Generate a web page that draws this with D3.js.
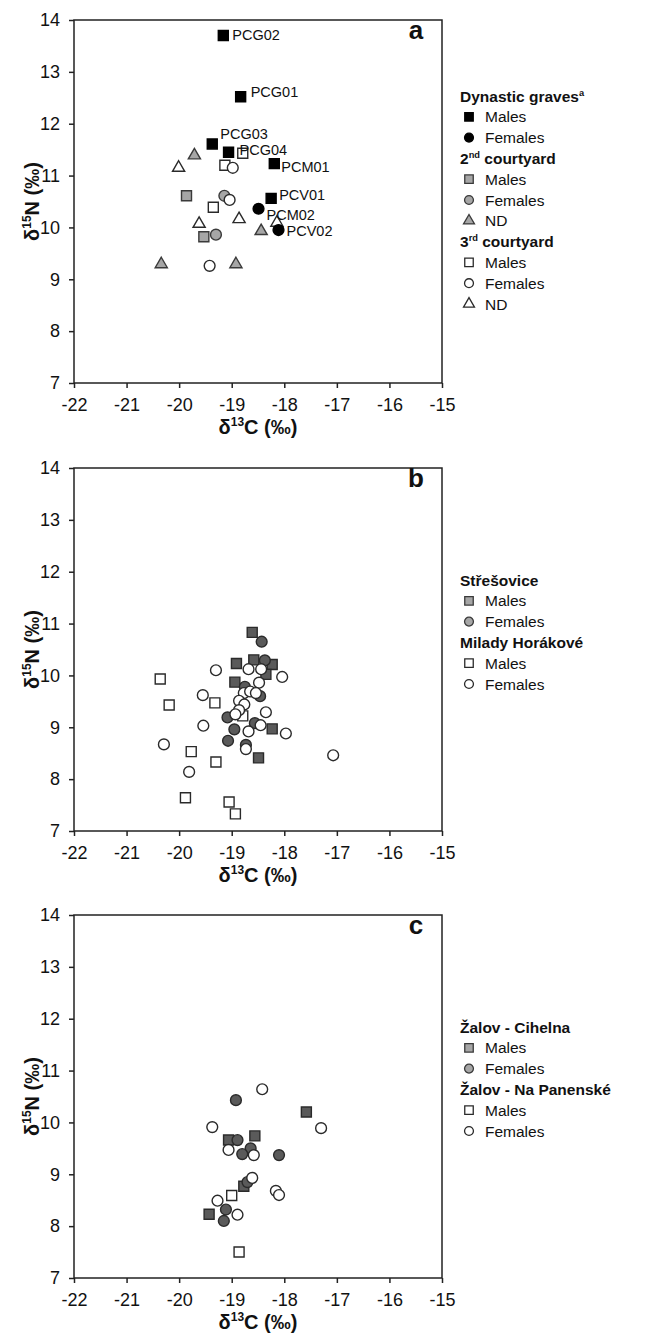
<!DOCTYPE html>
<html>
<head>
<meta charset="utf-8">
<script src="https://cdn.jsdelivr.net/npm/d3@7"></script>
<style>
body { margin: 0; background: #fff; }
svg { display: block; }
text { font-family: "Liberation Sans", Arial, sans-serif; fill: #111; }
</style>
</head>
<body>
<script>
// tick values shared by the three panels
var xTicks = [-22, -21, -20, -19, -18, -17, -16, -15];
var yTicks = [7, 8, 9, 10, 11, 12, 13, 14];

// panel a : [d13C, d15N, label]
var dynMales = [[-19.16, 13.70, 'PCG02'], [-18.83, 12.52, 'PCG01'], [-19.37, 11.61, 'PCG03'],
	[-19.06, 11.45, 'PCG04'], [-18.19, 11.23, 'PCM01'], [-18.25, 10.56, 'PCV01']];
var dynFemales = [[-18.49, 10.36, 'PCM02'], [-18.11, 9.95, 'PCV02']];
var court2Males = [[-19.86, 10.61], [-19.53, 9.82]];
var court2Females = [[-19.14, 10.61], [-19.30, 9.86]];
var court2ND = [[-19.71, 11.39], [-18.44, 9.93], [-20.34, 9.29], [-18.92, 9.29]];
var court3Males = [[-18.79, 11.43], [-19.13, 11.20], [-19.35, 10.39]];
var court3Females = [[-18.98, 11.15], [-19.04, 10.53], [-19.42, 9.26]];
var court3ND = [[-20.01, 11.15], [-19.62, 10.07], [-18.86, 10.16], [-18.14, 10.09]];

// panel b
var stresMales = [[-18.61, 10.83], [-18.91, 10.23], [-18.58, 10.30], [-18.23, 10.21],
	[-18.35, 10.02], [-18.94, 9.87], [-18.23, 8.97], [-18.49, 8.41]];
var stresFemales = [[-18.43, 10.65], [-18.37, 10.29], [-18.75, 9.78], [-18.46, 9.60],
	[-19.08, 9.19], [-18.95, 8.96], [-18.56, 9.08], [-19.07, 8.74], [-18.73, 8.66]];
var miladyMales = [[-20.36, 9.93], [-20.19, 9.43], [-19.32, 9.47], [-18.79, 9.22],
	[-19.77, 8.53], [-19.30, 8.33], [-19.88, 7.64], [-19.05, 7.56], [-18.93, 7.33]];
var miladyFemales = [[-19.30, 10.10], [-18.68, 10.12], [-18.44, 10.12], [-18.04, 9.97],
	[-18.48, 9.86], [-19.55, 9.62], [-18.77, 9.66], [-18.65, 9.69], [-18.54, 9.66],
	[-18.86, 9.51], [-18.76, 9.44], [-18.86, 9.33], [-18.93, 9.25], [-18.35, 9.29],
	[-19.54, 9.03], [-18.45, 9.04], [-18.68, 8.92], [-17.97, 8.88], [-20.29, 8.67],
	[-18.73, 8.58], [-17.07, 8.46], [-19.81, 8.14]];

// panel c
var cihelnaMales = [[-17.58, 10.20], [-18.56, 9.74], [-19.06, 9.66], [-18.77, 8.77], [-19.43, 8.23]];
var cihelnaFemales = [[-18.92, 10.43], [-18.89, 9.66], [-18.64, 9.50], [-18.80, 9.39],
	[-18.10, 9.37], [-18.70, 8.85], [-19.11, 8.32], [-19.15, 8.10]];
var panenskeMales = [[-19.00, 8.59], [-18.86, 7.50]];
var panenskeFemales = [[-18.42, 10.64], [-19.37, 9.91], [-17.30, 9.89], [-19.06, 9.47],
	[-18.58, 9.37], [-18.61, 8.93], [-18.16, 8.68], [-18.10, 8.60], [-19.27, 8.49], [-18.89, 8.22]];

// label offsets (px) for the named graves
var labelOffset = {
	PCG02: [9, -1], PCG01: [10, -5], PCG03: [8, -10], PCG04: [11, -2],
	PCM01: [7, 3], PCV01: [8, -3], PCM02: [8, 6], PCV02: [8, 1]
};

var styles = {
	black: {fill: '#000', stroke: '#000'},
	grey: {fill: '#a6a6a6', stroke: '#3a3a3a'},
	dark: {fill: '#5a5a5a', stroke: '#2a2a2a'},
	open: {fill: '#fff', stroke: '#2a2a2a'}
};
var shapes = {square: d3.symbolSquare, circle: d3.symbolCircle, triangle: d3.symbolTriangle};
var plotSize = {square: 100, circle: 92, triangle: 64};
var legendSize = {square: 72, circle: 62, triangle: 52};

var panels = [
	{
		letter: 'a', top: 20, legendTop: 96,
		series: [
			{data: court2ND, shape: 'triangle', style: 'grey'},
			{data: court3ND, shape: 'triangle', style: 'open'},
			{data: court2Males, shape: 'square', style: 'grey'},
			{data: court2Females, shape: 'circle', style: 'grey'},
			{data: court3Males, shape: 'square', style: 'open'},
			{data: court3Females, shape: 'circle', style: 'open'},
			{data: dynFemales, shape: 'circle', style: 'black'},
			{data: dynMales, shape: 'square', style: 'black'}
		],
		legend: [
			{head: [['Dynastic graves'], ['a', 1]]},
			{shape: 'square', style: 'black', text: 'Males'},
			{shape: 'circle', style: 'black', text: 'Females'},
			{head: [['2'], ['nd', 1], [' courtyard']]},
			{shape: 'square', style: 'grey', text: 'Males'},
			{shape: 'circle', style: 'grey', text: 'Females'},
			{shape: 'triangle', style: 'grey', text: 'ND'},
			{head: [['3'], ['rd', 1], [' courtyard']]},
			{shape: 'square', style: 'open', text: 'Males'},
			{shape: 'circle', style: 'open', text: 'Females'},
			{shape: 'triangle', style: 'open', text: 'ND'}
		]
	},
	{
		letter: 'b', top: 468, legendTop: 580,
		series: [
			{data: miladyMales, shape: 'square', style: 'open'},
			{data: stresMales, shape: 'square', style: 'dark'},
			{data: stresFemales, shape: 'circle', style: 'dark'},
			{data: miladyFemales, shape: 'circle', style: 'open'}
		],
		legend: [
			{head: [['Střešovice']]},
			{shape: 'square', style: 'grey', text: 'Males'},
			{shape: 'circle', style: 'grey', text: 'Females'},
			{head: [['Milady Horákové']]},
			{shape: 'square', style: 'open', text: 'Males'},
			{shape: 'circle', style: 'open', text: 'Females'}
		]
	},
	{
		letter: 'c', top: 915, legendTop: 1027,
		series: [
			{data: panenskeMales, shape: 'square', style: 'open'},
			{data: cihelnaMales, shape: 'square', style: 'dark'},
			{data: cihelnaFemales, shape: 'circle', style: 'dark'},
			{data: panenskeFemales, shape: 'circle', style: 'open'}
		],
		legend: [
			{head: [['Žalov - Cihelna']]},
			{shape: 'square', style: 'grey', text: 'Males'},
			{shape: 'circle', style: 'grey', text: 'Females'},
			{head: [['Žalov - Na Panenské']]},
			{shape: 'square', style: 'open', text: 'Males'},
			{shape: 'circle', style: 'open', text: 'Females'}
		]
	}
];

var width = 648, height = 1336,
	left = 74, plotW = 368, plotH = 363,
	rowGap = 20.8;

var svg = d3.select('body').append('svg')
	.attr('width', width)
	.attr('height', height);

function addSup(textSel, pieces, size) {
	pieces.forEach(function(p) {
		var t = textSel.append('tspan').text(p[0]);
		if (p[1]) {
			t.attr('font-size', size * 0.6).attr('dy', -size * 0.38);
		} else if (textSel.node().childNodes.length > 1) {
			t.attr('dy', size * 0.38);
		}
	});
}

function drawPanel(cfg) {
	var g = svg.append('g'),
		x = d3.scaleLinear().domain([-22, -15]).range([left, left + plotW]),
		y = d3.scaleLinear().domain([7, 14]).range([cfg.top + plotH, cfg.top]);

	var xAxis = g.append('g')
		.attr('transform', 'translate(0,' + (cfg.top + plotH) + ')')
		.call(d3.axisBottom(x).tickValues(xTicks).tickSize(5).tickPadding(10)
			.tickFormat(function(d) { return String(d); }));
	var yAxis = g.append('g')
		.attr('transform', 'translate(' + left + ',0)')
		.call(d3.axisLeft(y).tickValues(yTicks).tickSize(5).tickPadding(9)
			.tickFormat(function(d) { return String(d); }));
	[xAxis, yAxis].forEach(function(a) {
		a.attr('font-size', null).attr('font-family', null);
		a.select('.domain').remove();
		a.selectAll('line').attr('stroke', '#222').attr('stroke-width', 1.5);
		a.selectAll('text').attr('font-size', 18).attr('fill', '#111');
	});

	g.append('rect')
		.attr('x', left).attr('y', cfg.top)
		.attr('width', plotW).attr('height', plotH)
		.attr('fill', 'none').attr('stroke', '#222').attr('stroke-width', 1.5);

	// axis titles
	var xt = g.append('text')
		.attr('x', left + plotW / 2).attr('y', cfg.top + plotH + 51)
		.attr('text-anchor', 'middle').attr('font-size', 20).attr('font-weight', 'bold');
	addSup(xt, [['δ'], ['13', 1], ['C (‰)']], 20);
	var yt = g.append('text')
		.attr('transform', 'translate(39,' + (cfg.top + plotH / 2) + ') rotate(-90)')
		.attr('text-anchor', 'middle').attr('font-size', 20).attr('font-weight', 'bold');
	addSup(yt, [['δ'], ['15', 1], ['N (‰)']], 20);

	g.append('text')
		.attr('x', 416).attr('y', cfg.top + 19)
		.attr('text-anchor', 'middle').attr('font-size', 26).attr('font-weight', 'bold')
		.text(cfg.letter);

	cfg.series.forEach(function(s) {
		var st = styles[s.style];
		g.selectAll(null).data(s.data).enter().append('path')
			.attr('transform', function(d) { return 'translate(' + x(d[0]) + ',' + y(d[1]) + ')'; })
			.attr('d', d3.symbol().type(shapes[s.shape]).size(plotSize[s.shape]))
			.attr('fill', st.fill).attr('stroke', st.stroke).attr('stroke-width', 1.4);
		g.selectAll(null).data(s.data.filter(function(d) { return d[2]; })).enter().append('text')
			.attr('x', function(d) { return x(d[0]) + labelOffset[d[2]][0]; })
			.attr('y', function(d) { return y(d[1]) + labelOffset[d[2]][1] + 5; })
			.attr('font-size', 14.5)
			.text(function(d) { return d[2]; });
	});

	// legend
	var lg = g.append('g');
	cfg.legend.forEach(function(item, i) {
		var cy = cfg.legendTop + i * rowGap;
		if (item.head) {
			var t = lg.append('text').attr('x', 460).attr('y', cy + 5.5)
				.attr('font-size', 15.5).attr('font-weight', 'bold');
			addSup(t, item.head, 15.5);
		} else {
			var st = styles[item.style];
			lg.append('path')
				.attr('transform', 'translate(469,' + cy + ')')
				.attr('d', d3.symbol().type(shapes[item.shape]).size(legendSize[item.shape]))
				.attr('fill', st.fill).attr('stroke', st.stroke).attr('stroke-width', 1.3);
			lg.append('text').attr('x', 485).attr('y', cy + 5.5)
				.attr('font-size', 15.5).text(item.text);
		}
	});
}

panels.forEach(drawPanel);
</script>
</body>
</html>
